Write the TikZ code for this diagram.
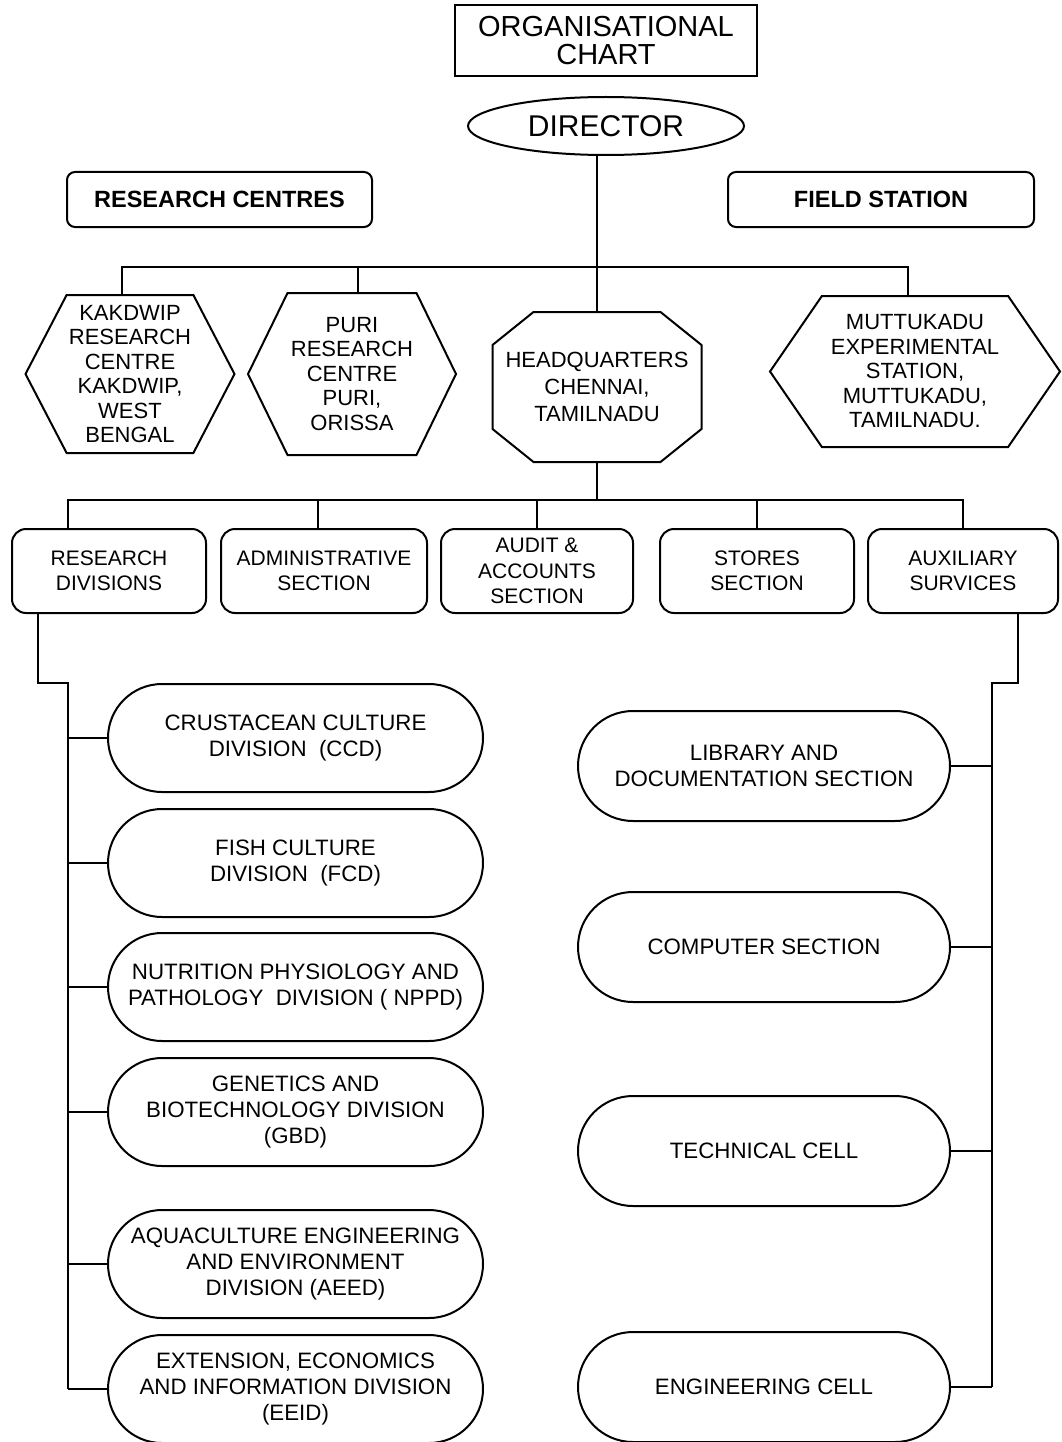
\documentclass[tikz,border=0pt]{standalone}
\usepackage{fontspec}
\setmainfont{Liberation Sans}
\usepackage{tikz}
\usetikzlibrary{shapes.geometric, shapes.symbols, shapes.misc, positioning}

\tikzset{
	base/.style={draw, line width=2pt, align=center, inner sep=0pt, outer sep=0pt},
	chartbox/.style={base, rectangle, minimum width=302pt, minimum height=71pt, font=\fontsize{29}{28}\selectfont},
	boss/.style={base, ellipse, minimum width=276pt, minimum height=58pt, font=\fontsize{30}{30}\selectfont},
	headbox/.style={base, rounded corners=8pt, minimum width=305pt, minimum height=55pt, font=\bfseries\fontsize{23.5}{24}\selectfont},
	centre/.style={base, signal, signal to=east and west, signal pointer angle=#1, font=\fontsize{22}{24.5}\selectfont},
	centre/.default=125,
	hqbox/.style={base, draw=none, minimum width=209pt, minimum height=150pt, font=\fontsize{22}{27}\selectfont},
	unit/.style={base, rounded corners=14pt, minimum height=84pt, font=\fontsize{21}{25.5}\selectfont},
	division/.style={base, rounded rectangle, minimum width=375pt, minimum height=108pt, font=\fontsize{22.3}{26}\selectfont},
	section/.style={base, rounded rectangle, minimum width=372pt, minimum height=110pt, font=\fontsize{22.3}{26}\selectfont},
	wire/.style={line width=2pt}
}

\begin{document}
\begin{tikzpicture}[x=1pt, y=-1pt]
	\useasboundingbox (0,0) rectangle (1061,1442);
	\node[chartbox] (chart) at (606,40.5) {ORGANISATIONAL\\CHART};
	\node[boss] (dir) at (606,126) {DIRECTOR};
	\node[headbox] (rc) at (219.5,199.5) {RESEARCH CENTRES};
	\node[headbox, minimum width=306pt] (fs) at (881,199.5) {FIELD STATION};
	% research centres and field station
	\node[centre, minimum width=209pt, minimum height=158pt] (kak) at (130,374) {KAKDWIP\\RESEARCH\\CENTRE\\KAKDWIP,\\WEST\\BENGAL};
	\node[centre=128, minimum width=208pt, minimum height=162pt] (pur) at (352,374) {PURI\\RESEARCH\\CENTRE\\PURI,\\ORISSA};
	\node[hqbox] (hq) at (597,387) {HEADQUARTERS\\CHENNAI,\\TAMILNADU};
	\draw[wire] ([xshift=41pt]hq.north west) -- ([xshift=-41pt]hq.north east) -- ([yshift=-33pt]hq.north east)
		-- ([yshift=33pt]hq.south east) -- ([xshift=-41pt]hq.south east) -- ([xshift=41pt]hq.south west)
		-- ([yshift=33pt]hq.south west) -- ([yshift=-33pt]hq.north west) -- cycle;
	\node[centre=111, minimum width=290pt, minimum height=151pt] (mut) at (915,371.5) {MUTTUKADU\\EXPERIMENTAL\\STATION,\\MUTTUKADU,\\TAMILNADU.};
	% sections at headquarters
	\node[unit, minimum width=194pt] (resdiv) at (109,571) {RESEARCH\\DIVISIONS};
	\node[unit, minimum width=206pt] (admin) at (324,571) {ADMINISTRATIVE\\SECTION};
	\node[unit, minimum width=192pt] (audit) at (537,571) {AUDIT \&\\ACCOUNTS\\SECTION};
	\node[unit, minimum width=194pt] (stores) at (757,571) {STORES\\SECTION};
	\node[unit, minimum width=190pt] (aux) at (963,571) {AUXILIARY\\SURVICES};
	% research divisions
	\node[division] (ccd) at (295.5,738) {CRUSTACEAN CULTURE\\DIVISION\ \ (CCD)};
	\node[division] (fcd) at (295.5,863) {FISH CULTURE\\DIVISION\ \ (FCD)};
	\node[division] (nppd) at (295.5,987) {NUTRITION PHYSIOLOGY AND\\PATHOLOGY\ \ DIVISION ( NPPD)};
	\node[division] (gbd) at (295.5,1112) {GENETICS AND\\BIOTECHNOLOGY DIVISION\\(GBD)};
	\node[division] (aeed) at (295.5,1264) {AQUACULTURE ENGINEERING\\AND ENVIRONMENT\\DIVISION (AEED)};
	\node[division] (eeid) at (295.5,1389) {EXTENSION, ECONOMICS\\AND INFORMATION DIVISION\\(EEID)};
	% auxiliary services
	\node[section] (lib) at (764,766) {LIBRARY AND\\DOCUMENTATION SECTION};
	\node[section] (comp) at (764,947) {COMPUTER SECTION};
	\node[section] (tech) at (764,1151) {TECHNICAL CELL};
	\node[section] (eng) at (764,1387) {ENGINEERING CELL};
	% connectors
	\coordinate (bus1) at (0,267);
	\coordinate (bus2) at (0,500);
	\coordinate (trunkL) at (68,683);
	\coordinate (trunkR) at (992,683);
	\draw[wire] (dir.south -| hq.north) -- (hq.north);
	\draw[wire] ([xshift=-8pt]kak.north) -- ([xshift=-8pt]kak.north |- bus1) -- ([xshift=-7pt]mut.north |- bus1) -- ([xshift=-7pt]mut.north);
	\draw[wire] ([xshift=6pt]pur.north) -- ([xshift=6pt]pur.north |- bus1);
	\draw[wire] (hq.south) -- (hq.south |- bus2);
	\draw[wire] ([xshift=-41pt]resdiv.north) |- (aux.north |- bus2) -- (aux.north);
	\draw[wire] ([xshift=-6pt]admin.north) -- ([xshift=-6pt]admin.north |- bus2);
	\draw[wire] (audit.north) -- (audit.north |- bus2);
	\draw[wire] (stores.north) -- (stores.north |- bus2);
	\draw[wire] ([xshift=-71pt]resdiv.south) |- (trunkL) -- (trunkL |- eeid.west);
	\draw[wire] ([xshift=55pt]aux.south) |- (trunkR) -- (trunkR |- eng.east);
	\draw[wire] (ccd.west) -- (ccd.west -| trunkL);
	\draw[wire] (fcd.west) -- (fcd.west -| trunkL);
	\draw[wire] (nppd.west) -- (nppd.west -| trunkL);
	\draw[wire] (gbd.west) -- (gbd.west -| trunkL);
	\draw[wire] (aeed.west) -- (aeed.west -| trunkL);
	\draw[wire] (eeid.west) -- (eeid.west -| trunkL);
	\draw[wire] (lib.east) -- (lib.east -| trunkR);
	\draw[wire] (comp.east) -- (comp.east -| trunkR);
	\draw[wire] (tech.east) -- (tech.east -| trunkR);
	\draw[wire] (eng.east) -- (eng.east -| trunkR);
\end{tikzpicture}
\end{document}
